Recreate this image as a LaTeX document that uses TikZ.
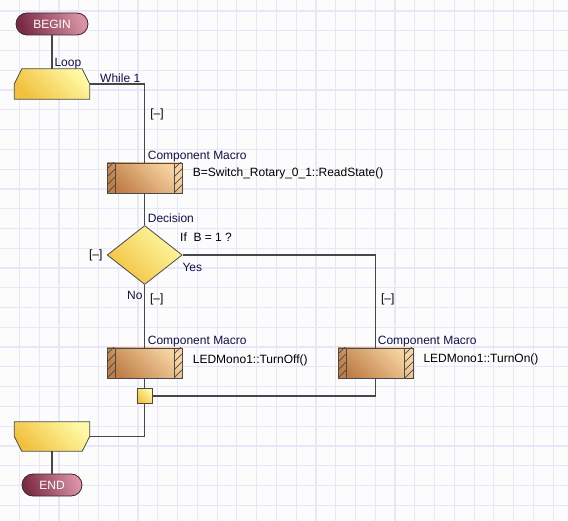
\documentclass[tikz,border=0pt]{standalone}
\usepackage{fontspec}
\setmainfont{Liberation Sans}
\usetikzlibrary{shapes.geometric}

\definecolor{paper}{HTML}{FCFCFD}
\definecolor{gridblue}{HTML}{E7E7F9}
\definecolor{linegray}{HTML}{474747}
\definecolor{tagblue}{HTML}{10104A}
\definecolor{pilldark}{HTML}{7A2C45}
\definecolor{pilllight}{HTML}{DA93A5}
\definecolor{pilledge}{HTML}{3E2230}
\definecolor{yellowdark}{HTML}{F1C13E}
\definecolor{yellowlight}{HTML}{FFF9A4}
\definecolor{browndark}{HTML}{BF7E47}
\definecolor{brownlight}{HTML}{F8D4A3}
\definecolor{edgegray}{HTML}{4A4A4A}

\begin{document}
\begin{tikzpicture}[x=1pt,y=-1pt,
	every node/.style={font=\fontsize{12}{14}\selectfont},
	gridline/.style={draw=gridblue, line width=1.2pt},
	conn/.style={draw=linegray, line width=1.2pt},
	yellowshade/.style={draw=edgegray, line width=0.8pt, bottom color=yellowdark, top color=yellowlight, shading angle=-45},
	pill/.style={rectangle, rounded corners=11pt, minimum height=22pt, inner sep=0pt, draw=pilledge, line width=0.8pt, text=white, bottom color=pilldark, top color=pilllight, shading angle=-70},
	loopbox/.style={rectangle, minimum width=75pt, minimum height=30pt, inner sep=0pt},
	decision/.style={diamond, minimum width=75pt, minimum height=59pt, inner sep=0pt, yellowshade},
	junction/.style={rectangle, minimum size=15.5pt, inner sep=0pt, yellowshade},
	hatchline/.style={draw=edgegray, line width=0.7pt},
	macro/.style={rectangle, minimum width=75pt, minimum height=30pt, inner sep=0pt, draw=edgegray, line width=0.8pt, bottom color=browndark, top color=brownlight, shading angle=-45,
		path picture={
			\foreach \corner/\shift/\edge in {south west/0pt/8.3pt, south east/-8.3pt/-8.3pt} {
				\begin{scope}
					\clip ([xshift=\shift]path picture bounding box.\corner) rectangle ([xshift=\shift+8.3pt, yshift=30pt]path picture bounding box.\corner);
					\foreach \k in {-1,...,3}
						\draw[hatchline] ([xshift=\shift, yshift=\k*8pt]path picture bounding box.\corner) -- ++(12pt,12pt);
				\end{scope}
				\draw[hatchline] ([xshift=\edge]path picture bounding box.\corner) -- ++(0pt,30pt);
			}
		}},
	flowtag/.style={anchor=base west, inner sep=0pt, text=tagblue},
	flowinfo/.style={anchor=base west, inner sep=0pt, text=black},
	collapser/.style={inner sep=0pt, text=black}]

	\useasboundingbox (0,0) rectangle (568,521);
	\fill[paper] (0,0) rectangle (568,521);
	\foreach \i in {0,...,27}
		\draw[gridline] ({19.4+19.77*\i},0) -- ({19.4+19.77*\i},521);
	\foreach \j in {0,...,25}
		\draw[gridline] (0,{11+19.77*\j}) -- (568,{11+19.77*\j});

	% flow blocks
	\node[pill, minimum width=72pt] (begin) at (52,24) {BEGIN};
	\node[loopbox] (loop) at (52,84) {};
	\node[macro] (readstate) at (144.7,178) {};
	\node[decision] (decision) at (144.7,255) {};
	\node[macro] (turnoff) at (144.7,363) {};
	\node[macro] (turnon) at (375.6,363) {};
	\node[junction] (join) at (144.7,396) {};
	\node[loopbox, minimum height=29pt] (endloop) at (52,436.5) {};
	\node[pill, minimum width=60pt] (end) at (52,485) {END};

	% loop ends, chamfered
	\path[yellowshade] ([xshift=7.5pt]loop.north west) -- ([xshift=-7.5pt]loop.north east) -- (loop.east)
		-- (loop.south east) -- (loop.south west) -- (loop.west) -- cycle;
	\path[yellowshade] (endloop.north west) -- (endloop.north east) -- (endloop.east)
		-- ([xshift=-7.5pt]endloop.south east) -- ([xshift=7.5pt]endloop.south west) -- (endloop.west) -- cycle;

	% connectors
	\draw[conn] (begin) -- (loop);
	\draw[conn] (loop.east) -| (readstate.north);
	\draw[conn] (readstate) -- (decision);
	\draw[conn] (decision.east) -| (turnon.north);
	\draw[conn] (decision) -- (turnoff);
	\draw[conn] (turnoff) -- (join);
	\draw[conn] (turnon.south) |- (join.east);
	\draw[conn] (join.south) |- (endloop.east);
	\draw[conn] (endloop) -- (end);

	% texts
	\node[flowtag] (looptag) at (54.3,66.5) {Loop};
	\node[flowtag] (whiletag) at (100,83) {While 1};
	\node[collapser] (loopfold) at (157,114) {[–]};
	\node[flowtag] (readtag) at (147.7,160) {Component Macro};
	\node[flowinfo] (readinfo) at (192.7,177) {B=Switch\_Rotary\_0\_1::ReadState()};
	\node[flowtag] (decisiontag) at (147.7,222.3) {Decision};
	\node[flowinfo] (decisioninfo) at (180,241.7) {If\ \ B = 1 ?};
	\node[collapser] (leftfold) at (95.8,255) {[–]};
	\node[flowtag] (yestag) at (182.3,271.7) {Yes};
	\node[flowtag, anchor=base east] (notag) at (142.7,299.3) {No};
	\node[collapser] (nofold) at (156.7,299.5) {[–]};
	\node[collapser] (yesfold) at (387.7,299) {[–]};
	\node[flowtag] (offtag) at (147.7,345) {Component Macro};
	\node[flowinfo] (offinfo) at (192.7,363.3) {LEDMono1::TurnOff()};
	\node[flowtag] (ontag) at (377.7,345) {Component Macro};
	\node[flowinfo] (oninfo) at (423.3,362.7) {LEDMono1::TurnOn()};
\end{tikzpicture}
\end{document}
